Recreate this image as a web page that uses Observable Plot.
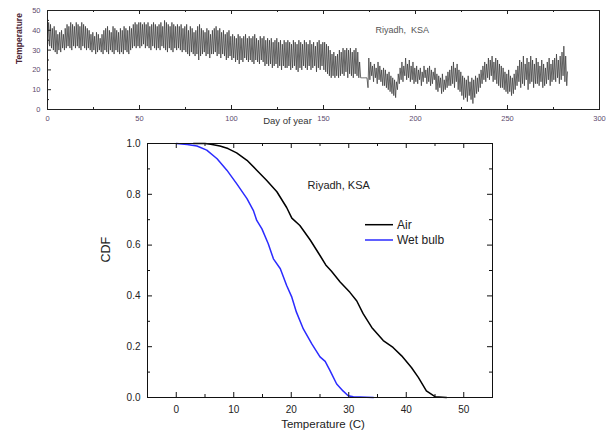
<!DOCTYPE html>
<html><head><meta charset="utf-8">
<script src="https://cdn.jsdelivr.net/npm/d3@7"></script>
<script src="https://cdn.jsdelivr.net/npm/@observablehq/plot@0.6"></script>
<style>
body{margin:0;background:#fff;}
#wrap{position:relative;width:607px;height:435px;font-family:"Liberation Sans",Arial,sans-serif;overflow:hidden;}
#top{position:absolute;left:0;top:0;}
#bot{position:absolute;left:0;top:130px;}
#legend{position:absolute;left:360px;top:212px;}
</style></head>
<body><div id="wrap"><div id="top"></div><div id="bot"></div><div id="legend"></div></div>
<script>
// ---- Top panel: daily max / min air temperature, Riyadh (day 0..282) ----
const dailyMax = [
44,43,41,42,40,38,39,40,38,41,
43,42,44,43,42,44,43,42,44,43,
42,41,40,38,39,37,39,38,36,38,
40,41,42,40,39,42,41,40,39,41,
40,42,41,40,42,41,43,44,43,44,
44,43,44,43,44,42,43,44,43,42,
43,44,42,45,44,43,42,44,43,42,
43,42,43,41,42,43,40,42,41,39,
40,42,43,41,40,39,41,40,38,40,
41,42,40,41,39,40,38,39,40,37,
38,37,36,38,37,36,37,38,36,37,
36,37,38,36,35,37,36,37,35,36,
35,36,34,35,36,34,35,33,35,34,
35,34,33,35,34,33,35,34,33,35,
34,33,35,33,34,32,34,35,33,34,
34,33,32,30,28,29,27,28,30,29,
31,30,31,30,31,29,30,31,29,24,
16,16,16,16,
26,
24,22,23,21,24,22,20,21,
20,18,19,17,16,15,14,
18,21,24,22,26,23,25,22,24,21,
22,20,21,19,22,20,21,22,20,19,21,
18,17,16,18,15,17,19,20,
22,24,21,23,20,19,
17,16,15,17,14,16,15,17,16,
18,20,22,24,23,26,25,27,24,26,25,23,22,
21,19,18,20,17,16,18,20,
22,25,24,27,23,26,24,27,25,23,26,
24,22,25,23,21,24,26,23,25,
26,28,25,27,29,32,27,19
];
const dailyMin = [
33,32,31,30,29,28,30,29,31,30,
31,32,31,30,32,31,32,31,30,32,
31,30,31,30,29,30,28,29,30,29,
28,30,29,28,30,29,28,30,29,28,
29,28,30,29,28,30,31,32,31,32,
31,32,33,31,32,31,30,32,31,30,
31,30,32,31,30,29,31,30,29,31,
30,31,30,29,30,29,28,27,29,28,
27,28,25,27,28,29,27,28,26,28,
28,29,27,28,26,28,27,25,26,27,
25,26,24,25,23,25,24,26,25,24,
25,24,23,25,24,23,25,24,22,23,
22,23,21,22,23,21,22,20,22,21,
21,22,20,21,22,20,19,21,20,22,
21,20,22,20,21,22,19,21,20,22,
20,19,18,17,16,17,16,17,16,17,
18,17,19,16,18,17,16,18,17,16,
16,16,16,16,
11,
15,17,14,16,13,15,14,12,
12,11,10,9,8,7,6,
10,13,15,14,17,15,16,14,15,13,
14,13,15,12,14,16,13,14,12,13,15,
10,9,11,8,9,10,11,12,
12,13,11,14,10,9,
7,5,6,4,7,5,3,6,8,
9,11,13,15,14,16,15,17,14,15,13,12,11,
11,10,9,8,9,7,8,10,
12,14,11,13,12,15,10,13,14,11,13,
13,12,14,11,12,13,15,12,14,
15,14,16,13,15,17,14,12
];
const dayTicks = [0,50,100,150,200,250,300];
const dayMinorTicks = [25,75,125,175,225,275];
const tempTicks = [0,10,20,30,40,50];
const tempMinorTicks = [5,15,25,35,45];

// ---- Bottom panel: exceedance CDF ----
const airT = [3,5,6,7.6,9,10.5,12.3,14,15.7,17.5,19.2,20.1,21.5,23.3,25,26,27,28.5,30.2,31.4,32.5,34,36,37.7,39.2,40.9,42.1,43.5,45,47];
const airP = [1.0,1.0,0.997,0.99,0.98,0.963,0.934,0.895,0.855,0.81,0.748,0.706,0.677,0.62,0.559,0.522,0.497,0.455,0.414,0.38,0.33,0.276,0.224,0.197,0.164,0.118,0.079,0.026,0.003,0];
const wetT = [0,1.9,3.6,5.3,7.1,8.8,10.5,12.3,13.4,14,14.9,16,16.9,18.1,19.2,20.1,20.9,22.1,23.6,25,25.9,26.7,27.9,29,29.9,30.8,34.3];
const wetP = [1.0,0.996,0.99,0.974,0.94,0.895,0.842,0.783,0.737,0.697,0.664,0.605,0.546,0.507,0.441,0.395,0.336,0.27,0.21,0.16,0.142,0.108,0.053,0.026,0.007,0.003,0];
const cdfXTicks = [0,10,20,30,40,50];
const cdfXMinor = [-5,5,15,25,35,45,55];
const cdfYTicks = [0,0.2,0.4,0.6,0.8,1.0];
const cdfYMinor = [0.1,0.3,0.5,0.7,0.9];
const seriesNames = ["Air","Wet bulb"];
const seriesColors = ["#000000","#2b2bff"];

// build zig-zag time series (min in early morning, max in afternoon)
const series = [];
dailyMax.forEach((mx,i)=>{
  series.push({t:i+0.2, v:dailyMin[i]});
  series.push({t:i+0.62, v:mx});
});

// inward frame ticks drawn as short tick marks hugging each side
function ticksX(values, side, len, innerH, stroke){
  return Plot.tickX(values, side === "bottom"
    ? {x:d=>d, insetTop: innerH - len, stroke}
    : {x:d=>d, insetBottom: innerH - len, stroke});
}
function ticksY(values, side, len, innerW, stroke){
  return Plot.tickY(values, side === "left"
    ? {y:d=>d, insetRight: innerW - len, stroke}
    : {y:d=>d, insetLeft: innerW - len, stroke});
}

const T = {w:607, h:130, ml:47, mr:8, mt:10, mb:21};
const tIW = T.w - T.ml - T.mr, tIH = T.h - T.mt - T.mb;
const topPlot = Plot.plot({
  width:T.w, height:T.h,
  marginLeft:T.ml, marginRight:T.mr, marginTop:T.mt, marginBottom:T.mb,
  style:{fontFamily:"'Liberation Sans',Arial,sans-serif", background:"transparent", color:"#222", overflow:"visible"},
  x:{domain:[0,300]},
  y:{domain:[0,50]},
  marks:[
    Plot.line(series,{x:"t", y:"v", stroke:"#3a3a3a", strokeWidth:0.75}),
    Plot.frame({stroke:"#222", strokeWidth:1}),
    ticksX(dayTicks,"bottom",4,tIH,"#222"),
    ticksX(dayMinorTicks,"bottom",2,tIH,"#222"),
    ticksX(dayTicks,"top",4,tIH,"#222"),
    ticksX(dayMinorTicks,"top",2,tIH,"#222"),
    ticksY(tempTicks,"left",4,tIW,"#222"),
    ticksY(tempMinorTicks,"left",2,tIW,"#222"),
    Plot.axisX(dayTicks,{anchor:"bottom", tickSize:0, tickPadding:6, fontSize:7.5, fill:"#5e4a6e", label:null}),
    Plot.axisY(tempTicks,{anchor:"left", tickSize:0, tickPadding:7, fontSize:7.5, fill:"#5e4a6e", label:null}),
    Plot.text(["Temperature"],{frameAnchor:"left", rotate:-90, dx:-28, dy:4, fontSize:8.5, fontWeight:"bold", fill:"#4a2433"}),
    Plot.text(["Day of year"],{frameAnchor:"bottom", dx:-36, dy:14, fontSize:9.5, fill:"#333"}),
    Plot.text(["Riyadh,  KSA"],{frameAnchor:"top-left", textAnchor:"start", dx:328, dy:16, fontSize:9, fill:"#555"})
  ]
});
document.getElementById("top").appendChild(topPlot);

const cdfData = [
  ...airT.map((t,i)=>({t, p:airP[i], s:seriesNames[0]})),
  ...wetT.map((t,i)=>({t, p:wetP[i], s:seriesNames[1]}))
];

const B = {w:607, h:305, ml:147, mr:115, mt:13, mb:38};
const bIW = B.w - B.ml - B.mr, bIH = B.h - B.mt - B.mb;
const botPlot = Plot.plot({
  width:B.w, height:B.h,
  marginLeft:B.ml, marginRight:B.mr, marginTop:B.mt, marginBottom:B.mb,
  style:{fontFamily:"'Liberation Sans',Arial,sans-serif", background:"transparent", color:"#222", overflow:"visible"},
  x:{domain:[-5,55]},
  y:{domain:[0,1]},
  color:{domain:seriesNames, range:seriesColors},
  marks:[
    Plot.line(cdfData,{x:"t", y:"p", stroke:"s", z:"s", strokeWidth:1.5}),
    Plot.frame({stroke:"#111", strokeWidth:1}),
    ticksX(cdfXTicks,"bottom",5,bIH,"#111"),
    ticksX(cdfXMinor,"bottom",3,bIH,"#111"),
    ticksX(cdfXTicks,"top",5,bIH,"#111"),
    ticksX(cdfXMinor,"top",3,bIH,"#111"),
    ticksY(cdfYTicks,"left",5,bIW,"#111"),
    ticksY(cdfYMinor,"left",3,bIW,"#111"),
    ticksY(cdfYTicks,"right",5,bIW,"#111"),
    ticksY(cdfYMinor,"right",3,bIW,"#111"),
    Plot.axisX(cdfXTicks,{anchor:"bottom", tickSize:0, tickPadding:8, fontSize:10, fill:"#222", label:null}),
    Plot.axisY(cdfYTicks,{anchor:"left", tickSize:0, tickPadding:7, fontSize:10, fill:"#222", label:null, tickFormat:d3.format(".1f")}),
    Plot.text(["CDF"],{frameAnchor:"left", rotate:-90, dx:-42, dy:-8, fontSize:12.5, fill:"#222"}),
    Plot.text(["Temperature (C)"],{frameAnchor:"bottom", dx:3, dy:30, fontSize:11.5, fill:"#222"}),
    Plot.text(["Riyadh, KSA"],{frameAnchor:"top-left", textAnchor:"start", dx:160, dy:38, fontSize:11, fill:"#222"})
  ]
});
document.getElementById("bot").appendChild(botPlot);

// legend
const NS="http://www.w3.org/2000/svg";
const lg=document.createElementNS(NS,"svg");
lg.setAttribute("width","110"); lg.setAttribute("height","40");
seriesNames.forEach((n,i)=>{
  const y=12.7+i*15.3;
  const l=document.createElementNS(NS,"line");
  l.setAttribute("x1","5"); l.setAttribute("x2","33");
  l.setAttribute("y1",y); l.setAttribute("y2",y);
  l.setAttribute("stroke",seriesColors[i]); l.setAttribute("stroke-width","1.5");
  lg.appendChild(l);
  const t=document.createElementNS(NS,"text");
  t.setAttribute("x","37"); t.setAttribute("y",y+4.2);
  t.setAttribute("font-size","12"); t.setAttribute("fill","#222");
  t.setAttribute("font-family","'Liberation Sans',Arial,sans-serif");
  t.textContent=n;
  lg.appendChild(t);
});
document.getElementById("legend").appendChild(lg);
</script>
</body></html>
